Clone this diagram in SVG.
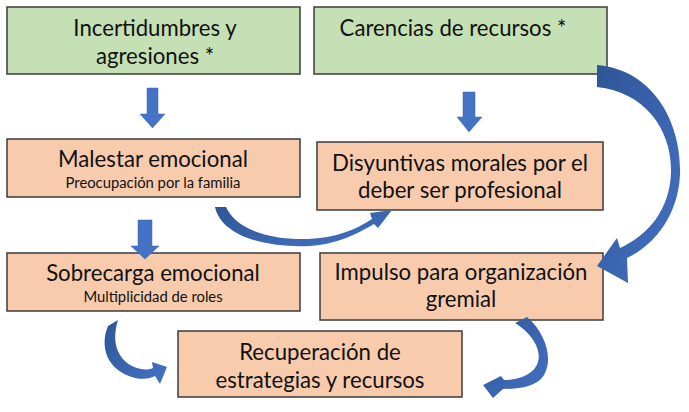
<svg xmlns="http://www.w3.org/2000/svg" width="689" height="412" viewBox="0 0 689 412">
<defs>
<linearGradient id="blue" x1="0" y1="0" x2="1" y2="1">
<stop offset="0" stop-color="#2f5597"/>
<stop offset="1" stop-color="#4472c4"/>
</linearGradient>
</defs>
<style>
.green{fill:#c5e0b4;stroke:#3b3b3b;stroke-width:1.5}
.peach{fill:#f8cbad;stroke:#3b3b3b;stroke-width:1.5}
.t{font-family:Lato,"Open Sans","Liberation Sans",sans-serif;font-size:22.2px;fill:#111;text-anchor:middle}
.s{font-family:Lato,"Open Sans","Liberation Sans",sans-serif;font-size:14.8px;fill:#111;text-anchor:middle}
.arr{fill:#4472c4;stroke:#3a64b0;stroke-width:0.5}
.curve{fill:url(#blue)}
</style>
<rect width="689" height="412" fill="#fff"/>
<g id="n1"><rect class="green" x="7" y="7" width="293" height="67"/><text class="t" x="155" y="36">Incertidumbres y</text><text class="t" x="155" y="64">agresiones *</text></g>
<g id="n2"><rect class="green" x="314" y="7" width="293" height="67"/><text class="t" x="453" y="36">Carencias de recursos *</text></g>
<g id="n3"><rect class="peach" x="7" y="139" width="293" height="58"/><text class="t" x="153" y="167">Malestar emocional</text><text class="s" x="153" y="188">Preocupación por la familia</text></g>
<g id="n4"><rect class="peach" x="317" y="142" width="286" height="68"/><text class="t" x="460" y="171">Disyuntivas morales por el</text><text class="t" x="460" y="198">deber ser profesional</text></g>
<g id="n5"><rect class="peach" x="7" y="253" width="293" height="58"/><text class="t" x="153" y="281">Sobrecarga emocional</text><text class="s" x="153" y="302">Multiplicidad de roles</text></g>
<g id="n6"><rect class="peach" x="320" y="253" width="283" height="67"/><text class="t" x="461" y="280">Impulso para organización</text><text class="t" x="461" y="307">gremial</text></g>
<g id="n7"><rect class="peach" x="178" y="331" width="284" height="66"/><text class="t" x="320" y="360">Recuperación de</text><text class="t" x="320" y="388">estrategias y recursos</text></g>
<g id="connectors">
<path class="arr" d="M147,88 H158 V114 H165 L152.5,128 L140,114 H147 Z"/>
<path class="arr" d="M463,92 H475 V117 H482 L469,132 L457,117 H463 Z"/>
<path class="arr" d="M138,220 H152 V246 H159 L145,259 L131,246 H138 Z"/>
<path class="curve" d="M597,65 C655,70 682,125 680,175 C678,215 655,245 627,258 L628,283 L597,266 L617,238 L620,248 C648,235 670,210 671,172 C672,130 645,92 597,87 Z"/>
<path class="curve" d="M215,207 C222,238 270,248 310,246 C340,244 360,232 374,224 L378,228 L392,210 L370,213 L372,219 C355,230 335,238 308,239 C265,240 236,228 226,207 Z"/>
<path class="curve" d="M108,326 C100,345 105,370 135,378 C145,380 151,378 155,376 L160,384 L167,367 L152,362 L153,368 C145,372 128,368 120,355 C114,345 114,333 118,320 Z"/>
<path class="curve" d="M527,317 C548,335 555,365 540,380 C530,388 515,389 503,389 L493,398 L483,385 L501,376 L504,380 C518,380 534,375 538,362 C542,348 530,332 515,323 Z"/>
</g>
</svg>
